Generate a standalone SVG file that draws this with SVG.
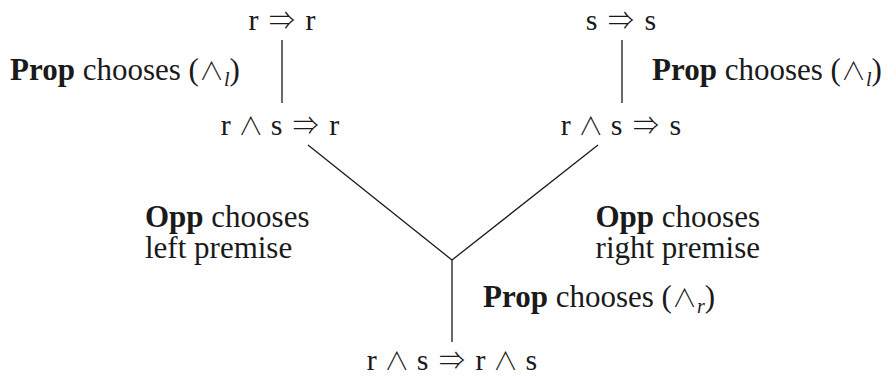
<svg xmlns="http://www.w3.org/2000/svg" width="896" height="378" viewBox="0 0 896 378">
<style>
text{font-family:"Liberation Serif","DejaVu Serif",serif;font-size:31px;fill:#1a1a1a}
.m{text-anchor:middle;font-size:30px}
.b{font-weight:bold}
.y{font-family:"Noto Sans CJK JP","DejaVu Sans",sans-serif;font-weight:300;font-size:25px}
.a{font-family:"Noto Sans CJK JP","DejaVu Sans",sans-serif;font-weight:300;font-size:26px}
.sub{font-size:20px;font-style:italic}
.e{text-anchor:end}
line{stroke:#1a1a1a;stroke-width:1.3}
</style>
<rect width="896" height="378" fill="#fff"/>
<g id="connectors">
<line x1="282" y1="40" x2="282" y2="103"/>
<line x1="622" y1="40" x2="622" y2="103"/>
<line x1="308" y1="145" x2="452" y2="260"/>
<line x1="598" y1="145" x2="452" y2="260"/>
<line x1="452" y1="260" x2="452" y2="342"/>
</g>
<g id="n_rr"><text class="m" x="282" y="30">r <tspan class="a" dx="3">⇒</tspan><tspan dx="3"> r</tspan></text></g>
<g id="n_ss"><text class="m" x="621" y="30">s <tspan class="a" dx="3">⇒</tspan><tspan dx="3"> s</tspan></text></g>
<g id="n_rsr"><text class="m" x="280" y="135">r <tspan class="y">∧</tspan> s <tspan class="a" dx="3">⇒</tspan><tspan dx="3"> r</tspan></text></g>
<g id="n_rss"><text class="m" x="621" y="135">r <tspan class="y">∧</tspan> s <tspan class="a" dx="3">⇒</tspan><tspan dx="3"> s</tspan></text></g>
<g id="n_root"><text class="m" x="452" y="370">r <tspan class="y">∧</tspan> s <tspan class="a" dx="3">⇒</tspan><tspan dx="3"> r </tspan><tspan class="y">∧</tspan> s</text></g>
<g id="labels">
<text x="10" y="80"><tspan class="b">Prop</tspan> chooses (<tspan class="y">∧</tspan><tspan class="sub" dy="6">l</tspan><tspan dy="-6">)</tspan></text>
<text x="652" y="80"><tspan class="b">Prop</tspan> chooses (<tspan class="y">∧</tspan><tspan class="sub" dy="6">l</tspan><tspan dy="-6">)</tspan></text>
<text x="145" y="227"><tspan class="b">Opp</tspan> chooses<tspan x="145" y="258">left premise</tspan></text>
<text class="e" x="760" y="227"><tspan class="b">Opp</tspan> chooses<tspan x="760" y="258">right premise</tspan></text>
<text x="483" y="307"><tspan class="b">Prop</tspan> chooses (<tspan class="y">∧</tspan><tspan class="sub" dy="6">r</tspan><tspan dy="-6">)</tspan></text>
</g>
</svg>
